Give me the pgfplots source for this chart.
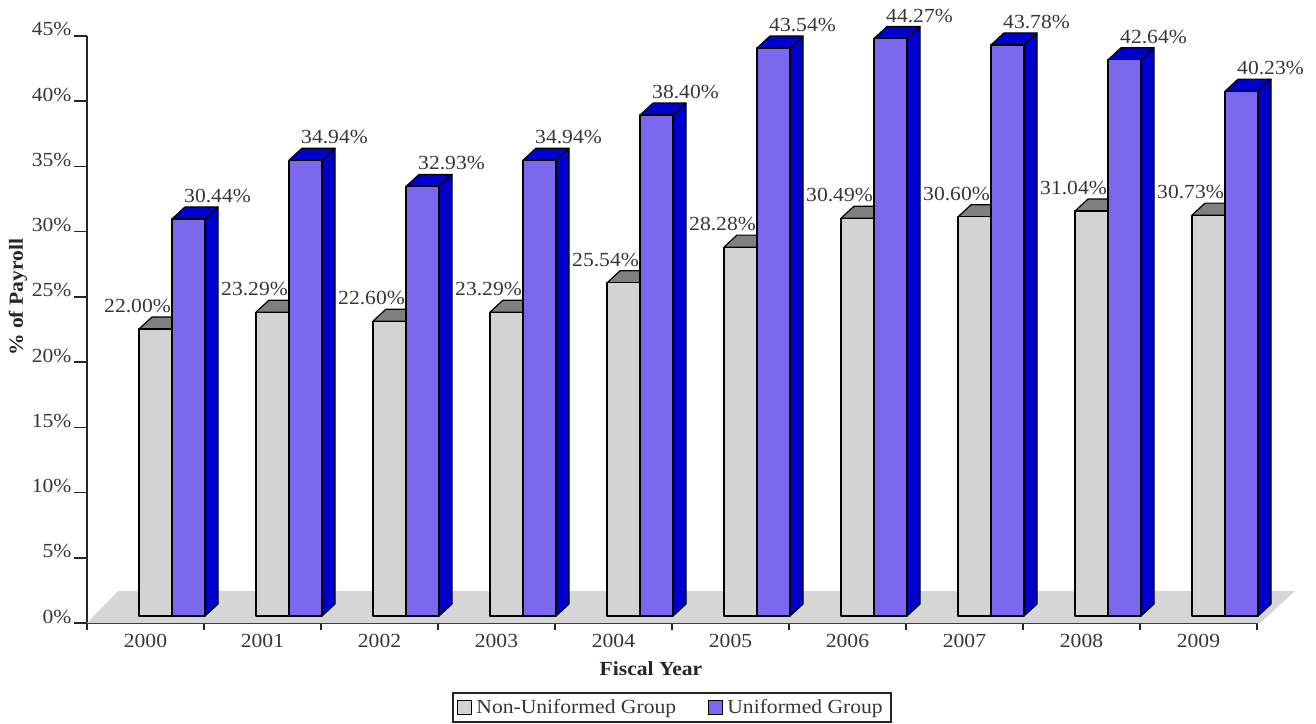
\documentclass[border=0pt]{standalone}
\usepackage{fontspec}
\setmainfont{Liberation Serif}[FakeStretch=1.08]
\usepackage{pgfplots}
\usepackage{pgfplotstable}
\pgfplotsset{compat=1.18}
\definecolor{gfront}{RGB}{211,211,211}
\definecolor{gtop}{RGB}{128,128,128}
\definecolor{bfront}{RGB}{123,104,238}
\definecolor{bdark}{RGB}{0,0,205}
\definecolor{floorc}{RGB}{214,214,214}
\definecolor{txt}{RGB}{55,55,55}

\pgfplotstableread{
x g u
0 22.00 30.44
1 23.29 34.94
2 22.60 32.93
3 23.29 34.94
4 25.54 38.40
5 28.28 43.54
6 30.49 44.27
7 30.60 43.78
8 31.04 42.64
9 30.73 40.23
}\datatable

\def\yu{6.5222}
% 3D bar drawn as a plot mark; #1 left offset (pt), #2 front, #3 top, #4 side
\newcommand\drawbarpgf[4]{%
  \begingroup
  \pgfkeys{/pgf/fpu=true, /pgf/fpu/output format=fixed}%
  \pgfmathparse{\barh*\yu}%
  \xdef\hh{\pgfmathresult}%
  \pgfkeys{/pgf/fpu=false}%
  \pgfsetlinewidth{0.6pt}\pgfsetroundjoin
  \pgfsetstrokecolor{black}%
  % side face
  \pgfsetfillcolor{#4}%
  \pgfpathmoveto{\pgfpoint{#1pt+16.5pt}{3.5pt-\hh pt}}%
  \pgfpathlineto{\pgfpoint{#1pt+23pt}{9.5pt-\hh pt}}%
  \pgfpathlineto{\pgfpoint{#1pt+23pt}{9.5pt}}%
  \pgfpathlineto{\pgfpoint{#1pt+16.5pt}{3.5pt}}%
  \pgfpathclose
  \pgfusepath{fill,stroke}%
  % top face
  \pgfsetfillcolor{#3}%
  \pgfpathmoveto{\pgfpoint{#1pt}{3.5pt}}%
  \pgfpathlineto{\pgfpoint{#1pt+6.5pt}{9.5pt}}%
  \pgfpathlineto{\pgfpoint{#1pt+23pt}{9.5pt}}%
  \pgfpathlineto{\pgfpoint{#1pt+16.5pt}{3.5pt}}%
  \pgfpathclose
  \pgfusepath{fill,stroke}%
  % front face
  \pgfsetfillcolor{#2}%
  \pgfpathrectanglecorners{\pgfpoint{#1pt}{3.5pt-\hh pt}}{\pgfpoint{#1pt+16.5pt}{3.5pt}}%
  \pgfusepath{fill,stroke}%
  \endgroup}
\pgfdeclareplotmark{graybar}{\drawbarpgf{-3.25}{gfront}{gtop}{gtop}}
\pgfdeclareplotmark{bluebar}{\drawbarpgf{13.25}{bfront}{bdark}{bdark}}

\begin{document}
\begin{tikzpicture}
\useasboundingbox (-43.5pt,-50pt) rectangle (614.5pt,311.5pt);
\begin{axis}[
  scale only axis,
  width=585pt, height=293.5pt,
  xmin=-0.5, xmax=9.5, ymin=0, ymax=45,
  clip=false,
  axis x line*=bottom, axis y line*=left,
  axis line style={line width=0.75pt, black!85},
  tick align=outside,
  xtick={-0.5,0.5,...,9.5},
  x tick label as interval,
  xticklabels={2000,2001,2002,2003,2004,2005,2006,2007,2008,2009},
  ytick={0,5,...,45},
  yticklabel={\pgfmathprintnumber{\tick}\%},
  /pgf/number format/assume math mode=true,
  xtick style={line width=0.75pt, black!85, /pgfplots/major tick length=3.5pt},
  ytick style={line width=0.75pt, black!85, /pgfplots/major tick length=6.5pt},
  tick label style={font=\fontsize{10pt}{12pt}\selectfont, text=txt},
  xticklabel style={anchor=base, yshift=-8pt},
  yticklabel style={anchor=base east},
  xlabel={\textbf{Fiscal Year}},
  ylabel={\textbf{\% of Payroll}},
  label style={font=\fontsize{10pt}{12pt}\selectfont, text=black!85},
  xlabel style={at={(axis description cs:0.482,-0.0886)}, anchor=base},
  ylabel style={at={(axis description cs:-0.0547,0.555)}, anchor=base},
  legend columns=2,
  legend style={at={(axis description cs:0.5,-0.144)}, anchor=center,
    draw=black!85, line width=0.8pt, font=\fontsize{10pt}{12pt}\selectfont,
    text=txt, inner xsep=2pt, inner ysep=1pt,
    /tikz/every even column/.append style={column sep=14pt}},
]
\addlegendimage{legend image code/.code={\draw[fill=gfront, draw=black, line width=0.6pt] (0pt,-3.5pt) rectangle (7pt,3.5pt);}}
\addlegendentry{Non-Uniformed Group}
\addlegendimage{legend image code/.code={\draw[fill=bfront, draw=black, line width=0.6pt] (0pt,-3.5pt) rectangle (7pt,3.5pt);}}
\addlegendentry{Uniformed Group}

% floor
\addplot[fill=floorc, draw=none, forget plot] coordinates {(-0.5,0) (9.526,0) (9.825,2.45) (-0.235,2.45)};

% non-uniformed
\addplot[forget plot, only marks, mark=graybar,
  visualization depends on={\thisrow{g} \as \barh},
  nodes near coords={\pgfmathprintnumber[fixed,fixed zerofill,precision=2]{\barh}\%},
  every node near coord/.append style={anchor=base, xshift=-4pt, yshift=11.75pt,
    font=\fontsize{10pt}{12pt}\selectfont, text=txt, inner sep=0pt},
] table[x=x, y=g] {\datatable};

% uniformed
\addplot[forget plot, only marks, mark=bluebar,
  visualization depends on={\thisrow{u} \as \barh},
  nodes near coords={\pgfmathprintnumber[fixed,fixed zerofill,precision=2]{\barh}\%},
  every node near coord/.append style={anchor=base, xshift=36pt, yshift=11.75pt,
    font=\fontsize{10pt}{12pt}\selectfont, text=txt, inner sep=0pt},
] table[x=x, y=u] {\datatable};
\end{axis}
\end{tikzpicture}
\end{document}
